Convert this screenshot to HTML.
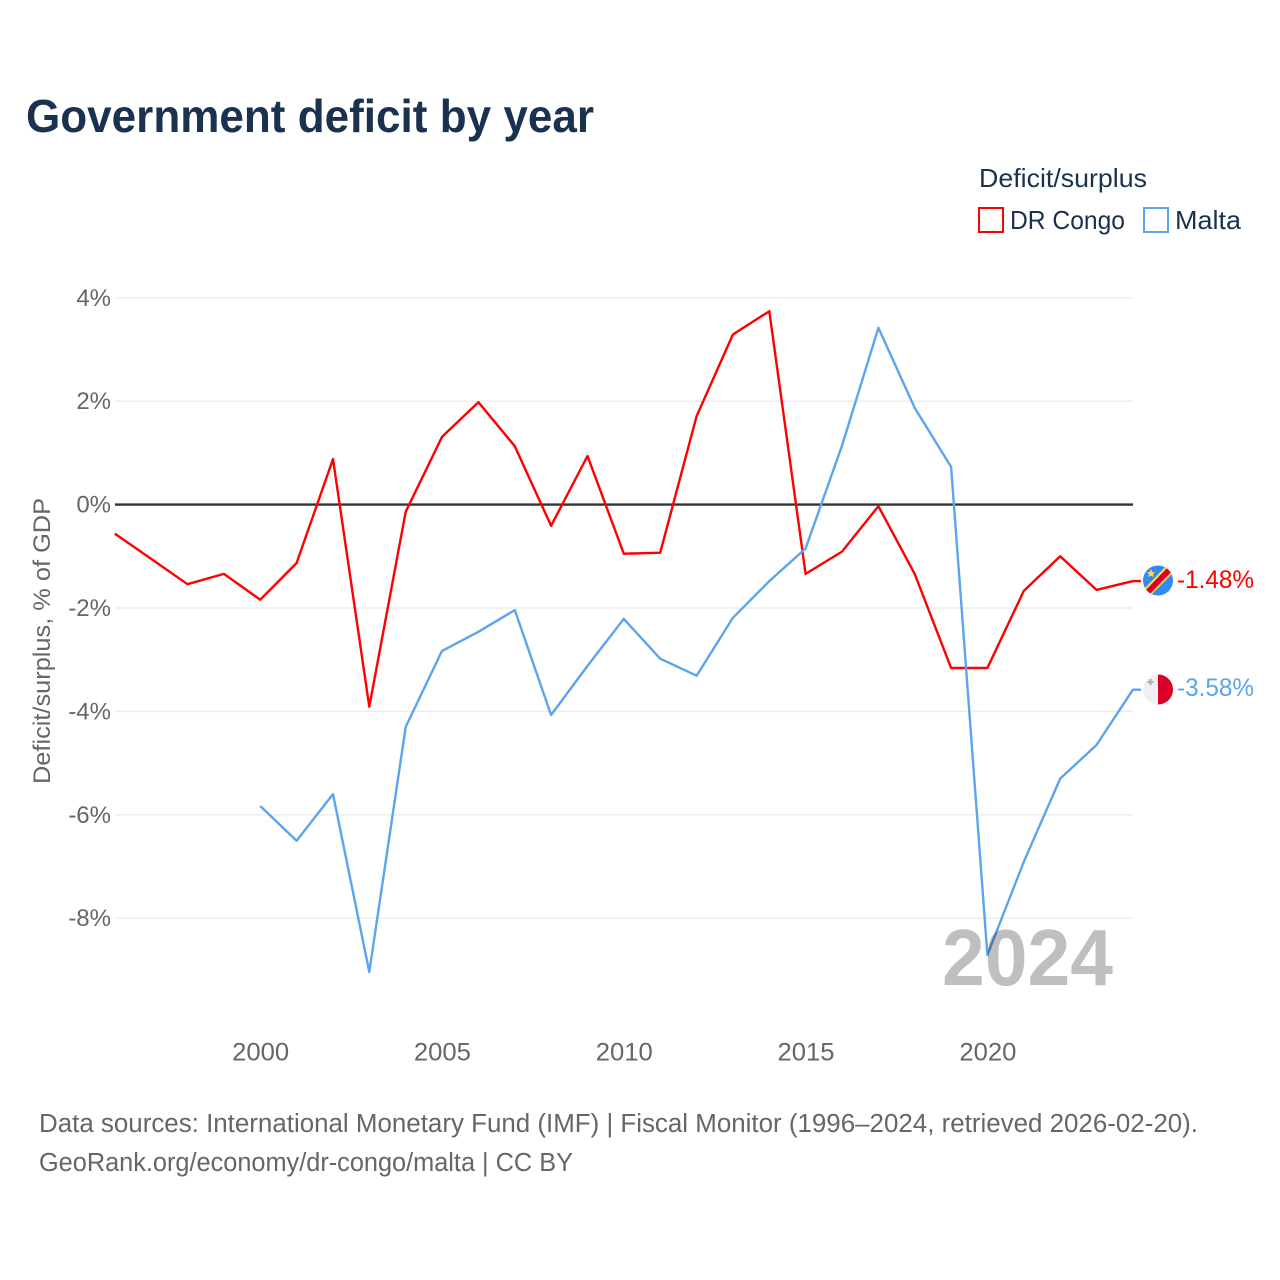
<!DOCTYPE html>
<html lang="en">
<head>
<meta charset="utf-8">
<title>Government deficit by year</title>
<style>
html,body{margin:0;padding:0;background:#fff;width:1280px;height:1280px;overflow:hidden}
svg{display:block;font-family:"Liberation Sans",sans-serif}
</style>
</head>
<body>
<svg id="chart" width="1280" height="1280" viewBox="0 0 1280 1280">
<defs>
<clipPath id="flag-clip-cd"><circle cx="1158" cy="580.5" r="15"/></clipPath>
<clipPath id="flag-clip-mt"><circle cx="1158" cy="689.5" r="15"/></clipPath>
</defs>
<rect width="1280" height="1280" fill="#fff"/>
<text x="26" y="132" font-size="46" font-weight="700" fill="#1a3150" textLength="568" lengthAdjust="spacingAndGlyphs">Government deficit by year</text>
<g>
<text x="979" y="187" font-size="26" fill="#1a3150" textLength="168" lengthAdjust="spacingAndGlyphs">Deficit/surplus</text>
<g>
<rect x="979" y="208" width="24" height="24" fill="#fff" stroke="#ff0000" stroke-width="2"/>
<text x="1010" y="229" font-size="26" fill="#1a3150" textLength="115" lengthAdjust="spacingAndGlyphs">DR Congo</text>
</g>
<g>
<rect x="1144" y="208" width="24" height="24" fill="#fff" stroke="#5ba4ee" stroke-width="2"/>
<text x="1175" y="229" font-size="26" fill="#1a3150" textLength="66" lengthAdjust="spacingAndGlyphs">Malta</text>
</g>
</g>
<text transform="translate(50,641) rotate(-90)" text-anchor="middle" font-size="24" fill="#666666" textLength="286" lengthAdjust="spacingAndGlyphs">Deficit/surplus, % of GDP</text>
<g id="grid-layer"></g>
<g id="x-layer"></g>
<g id="series-layer"></g>
<text x="1113" y="985" text-anchor="end" font-size="80" font-weight="700" fill="#000" fill-opacity="0.25" textLength="171" lengthAdjust="spacingAndGlyphs">2024</text>
<g clip-path="url(#flag-clip-cd)">
<rect x="1143" y="565" width="30" height="31" fill="#338af3"/>
<polygon points="1143,590 1167,565 1175,565 1175,571 1149,597 1143,597" fill="#ffda44"/>
<polygon points="1143,593 1170,565 1175,565 1175,568 1147,597 1143,597" fill="#d80027"/>
<polygon points="1151,569 1152.2,572 1155,572.3 1153,574.3 1153.6,577 1151,575.6 1148.4,577 1149,574.3 1147,572.3 1149.8,572" fill="#ffda44"/>
</g>
<g clip-path="url(#flag-clip-mt)">
<rect x="1143" y="674" width="15" height="31" fill="#f0f0f0"/>
<rect x="1158" y="674" width="15" height="31" fill="#d80027"/>
<path d="M1150.5 679v6M1147.5 682h6" stroke="#acabb1" stroke-width="2" fill="none"/>
</g>
<text x="1177" y="588" font-size="25" fill="#ff0000" textLength="77" lengthAdjust="spacingAndGlyphs">-1.48%</text>
<text x="1177" y="696" font-size="25" fill="#5ba4ee" textLength="77" lengthAdjust="spacingAndGlyphs">-3.58%</text>
<text x="39" y="1132" font-size="25.5" fill="#666666" textLength="1159" lengthAdjust="spacingAndGlyphs">Data sources: International Monetary Fund (IMF) | Fiscal Monitor (1996–2024, retrieved 2026-02-20).</text>
<text x="39" y="1171" font-size="25.5" fill="#666666" textLength="534" lengthAdjust="spacingAndGlyphs">GeoRank.org/economy/dr-congo/malta | CC BY</text>
</svg>
<script>
const years = [1996,1997,1998,1999,2000,2001,2002,2003,2004,2005,2006,2007,2008,2009,2010,2011,2012,2013,2014,2015,2016,2017,2018,2019,2020,2021,2022,2023,2024];
const drCongoValues = [-0.56,-1.05,-1.54,-1.34,-1.84,-1.13,0.88,-3.91,-0.14,1.31,1.98,1.13,-0.41,0.94,-0.95,-0.93,1.71,3.29,3.74,-1.34,-0.91,-0.03,-1.34,-3.16,-3.16,-1.67,-1.0,-1.65,-1.48];
const maltaValues = [null,null,null,null,-5.83,-6.5,-5.6,-9.04,-4.3,-2.83,-2.46,-2.04,-4.07,-3.12,-2.21,-2.98,-3.31,-2.19,-1.48,-0.85,1.14,3.42,1.87,0.73,-8.71,-6.91,-5.3,-4.65,-3.58];
const yTicks = [4,2,0,-2,-4,-6,-8];
const xTicks = [2000,2005,2010,2015,2020];

const NS = 'http://www.w3.org/2000/svg';
function xScale(year){ return 114.8 + (year - 1996) * 36.36; }
function yScale(v){ return 504.6 - v * 51.7; }
function make(tag, attrs, parent, text){
  const el = document.createElementNS(NS, tag);
  for (const k in attrs) el.setAttribute(k, attrs[k]);
  if (text !== undefined) el.textContent = text;
  parent.appendChild(el);
  return el;
}
const gridLayer = document.getElementById('grid-layer');
const xLayer = document.getElementById('x-layer');
const seriesLayer = document.getElementById('series-layer');

yTicks.filter(t => t !== 0).forEach(t => {
  const line = make('line', {x1:115, x2:1133, y1:yScale(t), y2:yScale(t), stroke:'#ebebeb', 'stroke-width':1.4}, gridLayer);
  
  
});
yTicks.forEach(t => {
  const label = make('text', {x:111, y:yScale(t)+8, 'text-anchor':'end', 'font-size':24, fill:'#666666'}, gridLayer, t + '%');
  
  
});
const zero = make('line', {x1:115, x2:1133, y1:yScale(0), y2:yScale(0), stroke:'#333333', 'stroke-width':2.4}, gridLayer);



xTicks.forEach(t => {
  const label = make('text', {x:xScale(t)+0.4, y:1060.5, 'text-anchor':'middle', 'font-size':25, fill:'#666666', textLength:57, lengthAdjust:'spacingAndGlyphs'}, xLayer, String(t));
  
  
});

function drawSeries(values, color, name){
  const pts = [];
  values.forEach((v, i) => { if (v !== null) pts.push(xScale(years[i]).toFixed(1) + ',' + yScale(v).toFixed(1)); });
  const lastVal = values[values.length - 1];
  pts.push('1141,' + yScale(lastVal).toFixed(1));
  const line = make('polyline', {points:pts.join(' '), fill:'none', stroke:color, 'stroke-width':2.4, 'stroke-linejoin':'round'}, seriesLayer);
  
  
}
drawSeries(drCongoValues, '#ff0000', 'series-line-dr-congo');
drawSeries(maltaValues, '#5ba4ee', 'series-line-malta');
</script>
</body>
</html>
